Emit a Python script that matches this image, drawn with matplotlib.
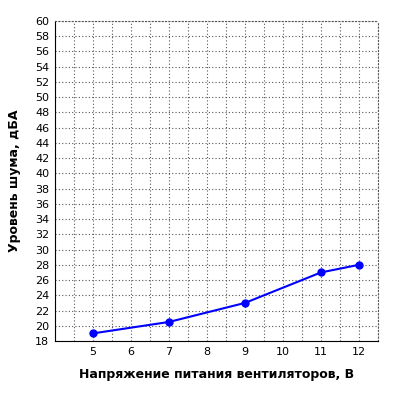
import matplotlib.pyplot as plt
import numpy as np

voltage = [5, 7, 9, 11, 12]
noise = [19, 20.5, 23, 27, 28]

fig = plt.figure(figsize=(4, 4), dpi=100)
ax = fig.add_axes([55 / 400, 59 / 400, 323 / 400, 320 / 400])

ax.plot(voltage, noise, '-o', color='#0000ff', linewidth=1.5, markersize=5, clip_on=False)

ax.set_xlim(4, 12.5)
ax.set_ylim(18, 60)
ax.set_xticks(np.arange(5, 13, 1))
ax.set_yticks(np.arange(18, 61, 2))
ax.set_xticks(np.arange(4, 12.6, 0.5), minor=True)
ax.tick_params(which='both', length=0, labelsize=8, pad=4)
ax.grid(True, which='major', linestyle=(0, (1, 2)), color='#555555', linewidth=0.8)
ax.grid(True, which='minor', axis='x', linestyle=(0, (1, 2)), color='#555555', linewidth=0.8)
for side in ['top', 'right']:
    ax.spines[side].set_linestyle((0, (1, 2)))
    ax.spines[side].set_color('#555555')
    ax.spines[side].set_linewidth(0.8)

ax.set_xlabel('Напряжение питания вентиляторов, В', fontsize=9, fontweight='bold', labelpad=8)
ax.set_ylabel('Уровень шума, дБА', fontsize=9, fontweight='bold', labelpad=10)

fig.savefig('out.png', dpi=100)
